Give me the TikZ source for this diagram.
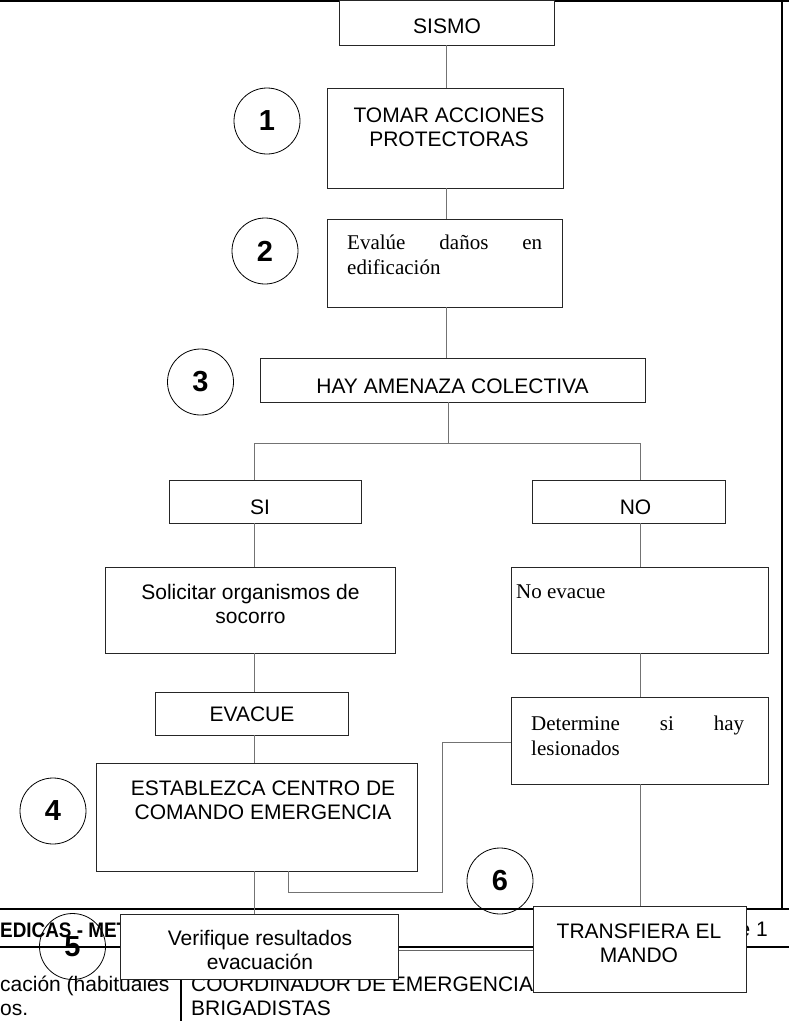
\documentclass[tikz,border=0pt]{standalone}
\usepackage{fontspec}
\setmainfont{Liberation Sans}
\newfontfamily\tnr{Liberation Serif}
\newfontfamily\narw[FakeStretch=0.9]{Liberation Sans}
\begin{document}
\begin{tikzpicture}[x=1pt,y=-1pt,
  box/.style={draw=black!85,line width=0.8pt,fill=white,rectangle,inner sep=0pt},
  conn/.style={draw=black!55,line width=0.9pt},
  num/.style={circle,draw=black,line width=0.8pt,minimum size=66pt,inner sep=0pt,font=\fontsize{29}{30}\selectfont\bfseries},
  txt/.style={inner sep=0pt,anchor=base,font=\fontsize{21}{24.5}\selectfont},
  txtl/.style={inner sep=0pt,anchor=base west,font=\fontsize{21}{24}\selectfont},
  serif/.style={inner sep=0pt,anchor=base west,font=\fontsize{21}{25}\selectfont\tnr},
  thickrule/.style={draw=black,line width=1.8pt}
]
\useasboundingbox (0,0) rectangle (789,1021);

% ---- page frame and footer table (behind the chart)
\draw[thickrule,line width=2.2pt] (0,1) -- (789,1);
\draw[thickrule,line width=2pt] (782,0) -- (782,909);
\draw[thickrule] (0,909) -- (789,909);
\draw[thickrule] (0,947) -- (789,947);
\draw[black!60,line width=0.8pt] (181,950.5) -- (600,950.5);
\draw[draw=black,line width=1.4pt] (181,947) -- (181,1021);

\node[inner sep=0pt,anchor=base west,font=\narw\bfseries\fontsize{21}{24}\selectfont] (hdr) at (0,937) {EDICAS - MET};
\node[inner sep=0pt,anchor=base east,font=\fontsize{21}{24}\selectfont] (pag) at (768,936) {e 1};
\node[txtl] (f1) at (0,991) {cación (habituales};
\node[txtl] (f2) at (0,1015) {os.};
\node[txtl] (f3) at (191,991) {COORDINADOR DE EMERGENCIA};
\node[txtl] (f4) at (191,1015) {BRIGADISTAS};

% ---- boxes
\node[box,minimum width=215pt,minimum height=45pt]  (sismo)  at (446.5,22.5) {};
\node[box,minimum width=236pt,minimum height=100pt] (tomar)  at (445,138) {};
\node[box,minimum width=235pt,minimum height=88pt]  (evalue) at (444.5,263) {};
\node[box,minimum width=385pt,minimum height=44pt]  (hay)    at (452.5,380) {};
\node[box,minimum width=192pt,minimum height=43pt]  (si)     at (265,501.5) {};
\node[box,minimum width=193pt,minimum height=43pt]  (no)     at (628.5,501.5) {};
\node[box,minimum width=290pt,minimum height=86pt]  (solic)  at (250,610) {};
\node[box,minimum width=257pt,minimum height=86pt]  (noev)   at (639.5,610) {};
\node[box,minimum width=193pt,minimum height=43pt]  (evacue) at (251.5,713.5) {};
\node[box,minimum width=321pt,minimum height=108pt] (estab)  at (256.5,817) {};
\node[box,minimum width=257pt,minimum height=87pt]  (determ) at (639.5,740.5) {};

% ---- connector columns
\coordinate (cx) at (446,0);
\coordinate (mx) at (448,0);
\coordinate (lx) at (254,0);
\coordinate (rx) at (640,0);
\coordinate (by) at (0,443);
\coordinate (ex) at (442,0);
\coordinate (ey) at (0,742);
\coordinate (fx) at (288,0);
\coordinate (fy) at (0,892);

\draw[conn] (cx |- sismo.south) -- (cx |- tomar.north);
\draw[conn] (cx |- tomar.south) -- (cx |- evalue.north);
\draw[conn] (cx |- evalue.south) -- (cx |- hay.north);
\draw[conn] (mx |- hay.south) -- (mx |- by);
\draw[conn] (lx |- si.north) -- (lx |- by) -- (rx |- by) -- (rx |- no.north);
\draw[conn] (lx |- si.south) -- (lx |- solic.north);
\draw[conn] (lx |- solic.south) -- (lx |- evacue.north);
\draw[conn] (lx |- evacue.south) -- (lx |- estab.north);
\draw[conn] (rx |- no.south) -- (rx |- noev.north);
\draw[conn] (rx |- noev.south) -- (rx |- determ.north);
\draw[conn] (determ.west |- ey) -- (ex |- ey) -- (ex |- fy) -- (fx |- fy) -- (fx |- estab.south);

% ---- bottom boxes (over the footer)
\node[box,minimum width=278pt,minimum height=65pt]  (verif)  at (259,946.5) {};
\node[box,minimum width=213pt,minimum height=86pt]  (transf) at (639.5,949) {};
\draw[conn] (lx |- estab.south) -- (lx |- verif.north);
\draw[conn] (rx |- determ.south) -- (rx |- transf.north);

% ---- numbered circles
\node[num] (n1) at (267,121) {1};
\node[num] (n2) at (265,251) {2};
\node[num] (n3) at (200.5,382) {3};
\node[num] (n4) at (53,811) {4};
\node[num] (n5) at (72.5,946.5) {5};
\node[num] (n6) at (500,881) {6};

% ---- texts
\node[txt] (tsismo) at (447,33) {SISMO};
\node[txt] (ttomar) at (449,122) {\begin{tabular}[t]{@{}c@{}}TOMAR ACCIONES\\PROTECTORAS\end{tabular}};
\node[serif] (tevalue) at (347,249) {\begin{tabular}[t]{@{}l@{}}\hbox to 195pt{Evalúe\hfill daños\hfill en}\\edificación\end{tabular}};
\node[txt] (thay) at (452.5,393) {HAY AMENAZA COLECTIVA};
\node[txt] (tsi) at (260,514) {SI};
\node[txt] (tno) at (635.5,514) {NO};
\node[txt] (tsolic) at (250.5,599) {\begin{tabular}[t]{@{}c@{}}Solicitar organismos de\\socorro\end{tabular}};
\node[serif] (tnoev) at (516,598) {No evacue};
\node[txt] (tevacue) at (252,721) {EVACUE};
\node[txt] (testab) at (263,795) {\begin{tabular}[t]{@{}c@{}}ESTABLEZCA CENTRO DE\\COMANDO EMERGENCIA\end{tabular}};
\node[serif] (tdeterm) at (531,730) {\begin{tabular}[t]{@{}l@{}}\hbox to 213pt{Determine\hfill si\hfill hay}\\lesionados\end{tabular}};
\node[txt] (tverif) at (260,945) {\begin{tabular}[t]{@{}c@{}}Verifique resultados\\evacuación\end{tabular}};
\node[txt] (ttransf) at (639,938) {\begin{tabular}[t]{@{}c@{}}TRANSFIERA EL\\MANDO\end{tabular}};
\end{tikzpicture}
\end{document}
